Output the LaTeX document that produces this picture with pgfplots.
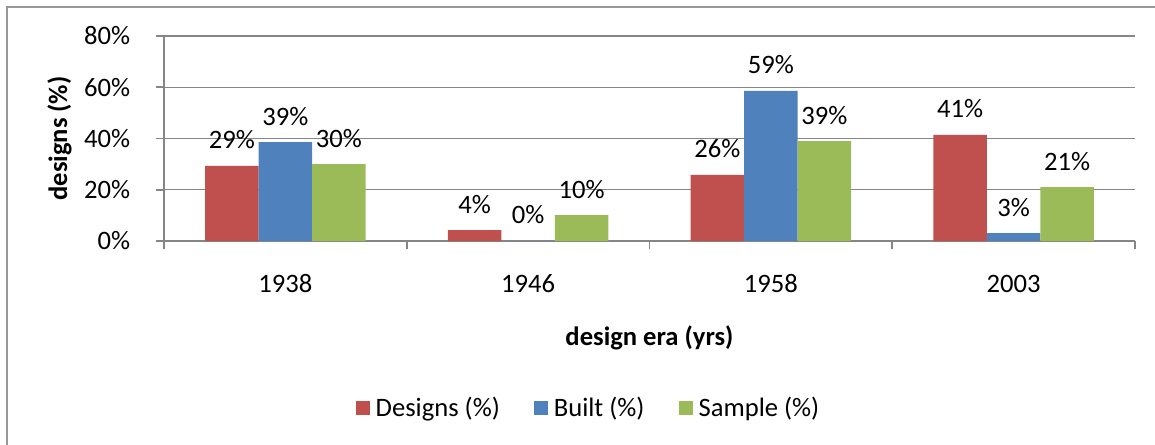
\documentclass[border=0pt]{standalone}
\usepackage{fontspec}
\setmainfont{Carlito}
\usepackage{pgfplots}
\pgfplotsset{compat=1.18}
\definecolor{xlred}{HTML}{C0504D}
\definecolor{xlblue}{HTML}{4F81BD}
\definecolor{xlgreen}{HTML}{9BBB59}
\definecolor{xlgrid}{HTML}{868686}
\newcommand{\chartfont}{\fontsize{13.3}{16}\selectfont}

\begin{document}
\begin{tikzpicture}
\useasboundingbox (-82pt,-101.5pt) rectangle (495.5pt,120.5pt);
% outer chart frame (cut off at the right and bottom)
\draw[xlgrid!85, line width=0.75pt] (-78.5pt,-102pt) -- (-78.5pt,117pt) -- (496pt,117pt);
\begin{axis}[
  width=485.5pt, height=102.5pt, scale only axis,
  ybar=0pt, bar width=26.75pt,
  xmin=-0.5, xmax=3.5, ymin=0, ymax=80,
  axis x line=bottom, axis y line=left,
  axis line style={-, draw=xlgrid, line width=1pt},
  ytick={0,20,40,60,80},
  yticklabels={0\%,20\%,40\%,60\%,80\%},
  ymajorgrids, grid style={xlgrid, line width=0.6pt},
  xtick={-0.5,0.5,1.5,2.5,3.5}, xticklabels={},
  extra x ticks={0,1,2,3},
  extra x tick labels={1938,1946,1958,2003},
  extra x tick style={major tick length=0pt, grid=none},
  tick align=outside, major tick length=3.75pt,
  tick style={draw=xlgrid, line width=0.9pt},
  /pgf/number format/assume math mode=true,
  every tick label/.append style={font=\chartfont},
  yticklabel style={anchor=east, inner sep=0pt, xshift=-13pt},
  xticklabel style={anchor=center, inner sep=0pt, yshift=-21.25pt},
  xlabel={design era (yrs)},
  ylabel={designs (\%)},
  xlabel style={at={(axis description cs:0.5,-0.4707)}, anchor=center, font=\chartfont\bfseries},
  ylabel style={at={(axis description cs:-0.1076,0.5)}, anchor=center, font=\chartfont\bfseries},
  nodes near coords={\pgfmathprintnumber[fixed,precision=0]{\pgfplotspointmeta}\%},
  nodes near coords style={anchor=center, inner sep=0pt, yshift=13pt, font=\chartfont, text=black},
  legend columns=3,
  legend style={draw=none, at={(0.4382,-0.8146)}, anchor=center, font=\chartfont,
    /tikz/every even column/.append style={column sep=15pt},
    /tikz/every odd column/.append style={column sep=1pt}},
  legend image code/.code={\fill[#1] (0pt,-3.5pt) rectangle (7pt,3.5pt);},
]
\addplot[fill=xlred, draw=none] coordinates {(0,29.3) (1,4.2) (2,25.8) (3,41.4)};
\addlegendentry{Designs (\%)}
\addplot[fill=xlblue, draw=none] coordinates {(0,38.6) (1,0) (2,58.6) (3,3.1)};
\addlegendentry{Built (\%)}
\addplot[fill=xlgreen, draw=none] coordinates {(0,30.0) (1,10.1) (2,39.0) (3,21.0)};
\addlegendentry{Sample (\%)}
\end{axis}
\end{tikzpicture}
\end{document}
